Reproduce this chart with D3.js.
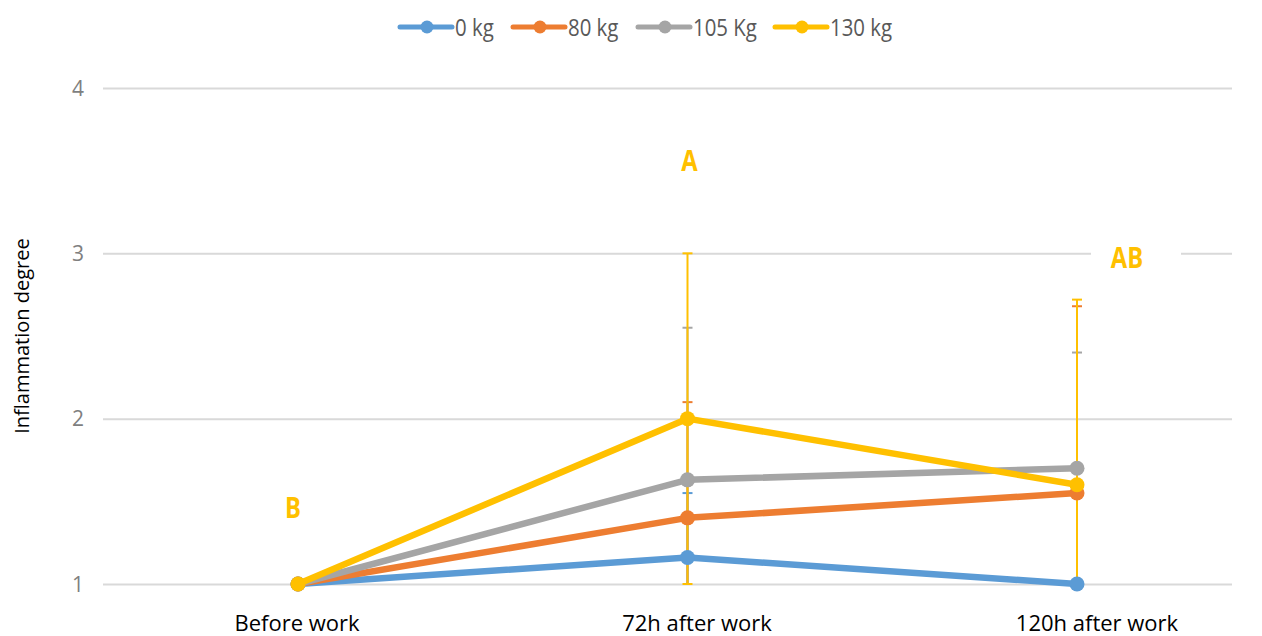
<!DOCTYPE html>
<html>
<head>
<meta charset="utf-8">
<script src="https://cdn.jsdelivr.net/npm/d3@7"></script>
<style>
  body { margin: 0; background: #fff; }
  svg { display: block; }
</style>
</head>
<body>
<script>
var w = 1262;
var h = 636;

// data
var categories = ["Before work", "72h after work", "120h after work"];
var seriesNames = ["0 kg", "80 kg", "105 Kg", "130 kg"];
var seriesColors = ["#5b9bd5", "#ed7d31", "#a5a5a5", "#ffc000"];
var means0 = [1, 1.16, 1];
var means80 = [1, 1.40, 1.55];
var means105 = [1, 1.63, 1.70];
var means130 = [1, 2.00, 1.60];
var err0 = [0, 0.39, 0];
var err80 = [0, 0.70, 1.13];
var err105 = [0, 0.92, 0.70];
var err130 = [0, 1.00, 1.12];
var yTicks = [1, 2, 3, 4];
var letterText = ["B", "A", "AB"];
var letterY = [1.46, 3.56, 2.97];

var means = [means0, means80, means105, means130];
var errs = [err0, err80, err105, err130];

var svg = d3.select("body").append("svg")
    .attr("width", w)
    .attr("height", h);

var x = d3.scalePoint().domain(categories).range([298, 1077]);
var xLabel = d3.scalePoint().domain(categories).range([297, 1097]);
var y = d3.scaleLinear().domain([1, 4]).range([584, 88]);

// grid
var grid = svg.append("g")
    .attr("transform", "translate(103,0)")
    .call(d3.axisLeft(y).tickValues(yTicks).tickSize(-1129).tickFormat(""));
grid.select(".domain").remove();
grid.selectAll(".tick line").attr("stroke", "#d9d9d9").attr("stroke-width", 2);

// y tick labels
svg.append("g").selectAll("text").data(yTicks).enter().append("text")
    .attr("x", 78)
    .attr("y", function (d) { return y(d); })
    .attr("dy", "0.36em")
    .attr("text-anchor", "middle")
    .attr("font-family", "Open Sans")
    .attr("font-size", 21)
    .attr("fill", "#7f7f7f")
    .text(function (d) { return d; });

// y title
svg.append("text")
    .attr("transform", "translate(29,336) rotate(-90)")
    .attr("text-anchor", "middle")
    .attr("font-family", "Open Sans")
    .attr("font-size", 20)
    .attr("fill", "#000")
    .text("Inflammation degree");

// x labels
svg.append("g").selectAll("text").data(categories).enter().append("text")
    .attr("x", function (d) { return xLabel(d); })
    .attr("y", 631)
    .attr("text-anchor", "middle")
    .attr("font-family", "Open Sans")
    .attr("font-size", 22)
    .attr("fill", "#000")
    .text(function (d) { return d; });

// error bars (clipped at the axis minimum)
var eb = svg.append("g");
means.forEach(function (m, si) {
    categories.forEach(function (c, i) {
        var e = errs[si][i];
        if (!e) return;
        var top = m[i] + e;
        var bot = Math.max(1, m[i] - e);
        var cx = x(c);
        eb.append("line")
            .attr("x1", cx).attr("x2", cx)
            .attr("y1", y(top)).attr("y2", y(bot))
            .attr("stroke", seriesColors[si]).attr("stroke-width", 2);
        eb.append("line")
            .attr("x1", cx - 5).attr("x2", cx + 5)
            .attr("y1", y(top)).attr("y2", y(top))
            .attr("stroke", seriesColors[si]).attr("stroke-width", 2);
        if (m[i] - e >= 1) {
            eb.append("line")
                .attr("x1", cx - 5).attr("x2", cx + 5)
                .attr("y1", y(bot)).attr("y2", y(bot))
                .attr("stroke", seriesColors[si]).attr("stroke-width", 2);
        }
    });
});

// lines + markers
var line = d3.line()
    .x(function (d, i) { return x(categories[i]); })
    .y(function (d) { return y(d); });

means.forEach(function (m, si) {
    var g = svg.append("g");
    g.append("path")
        .datum(m)
        .attr("d", line)
        .attr("fill", "none")
        .attr("stroke", seriesColors[si])
        .attr("stroke-width", 6.5)
        .attr("stroke-linejoin", "round");
    g.selectAll("circle").data(m).enter().append("circle")
        .attr("cx", function (d, i) { return x(categories[i]); })
        .attr("cy", function (d) { return y(d); })
        .attr("r", 7.5)
        .attr("fill", seriesColors[si]);
});

// significance letters
letterText.forEach(function (t, i) {
    var lx = i == 2 ? x(categories[i]) + 50 : x(categories[i]) - (i == 0 ? 5 : -2);
    var ly = y(letterY[i]);
    if (t == "AB") {
        svg.append("rect")
            .attr("x", lx - 36).attr("y", ly - 22)
            .attr("width", 90).attr("height", 30)
            .attr("fill", "#fff");
    }
    svg.append("text")
        .attr("transform", "translate(" + lx + "," + ly + ") scale(0.85,1)")
        .attr("dy", "0.36em")
        .attr("text-anchor", "middle")
        .attr("font-family", "Open Sans")
        .attr("font-weight", "bold")
        .attr("font-size", 28)
        .attr("fill", "#ffc000")
        .text(t);
});

// legend
var legendX = [400, 513, 638, 775];
var legend = svg.append("g");
seriesNames.forEach(function (n, i) {
    var lg = legend.append("g").attr("transform", "translate(" + legendX[i] + ",27)");
    lg.append("line").attr("x1", 0).attr("x2", 52)
        .attr("stroke", seriesColors[i]).attr("stroke-width", 5)
        .attr("stroke-linecap", "round");
    lg.append("circle").attr("cx", 27).attr("r", 6.5).attr("fill", seriesColors[i]);
    lg.append("text")
        .attr("transform", "translate(55,0) scale(0.85,1)")
        .attr("dy", "0.36em")
        .attr("font-family", "Open Sans")
        .attr("font-size", 24)
        .attr("fill", "#595959")
        .text(n);
});
</script>
</body>
</html>
